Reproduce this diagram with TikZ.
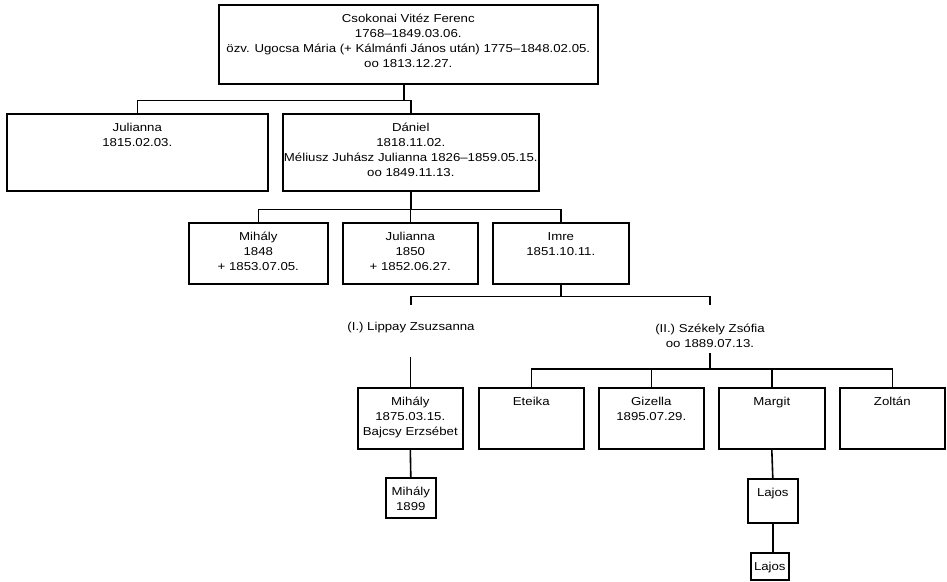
\documentclass[tikz,border=0pt]{standalone}
\usepackage{fontspec}
\setmainfont[FakeStretch=1.15]{Liberation Sans}
\usetikzlibrary{calc}
\newcommand\boxtxt[3]{\parbox[c][#2][t]{#1}{\centering\rule{0pt}{18pt}#3\par}}
\begin{document}
\begin{tikzpicture}[x=1pt,y=-1pt,
  every node/.style={font=\fontsize{11.5}{15}\selectfont},
  box/.style={draw, line width=1.6pt, inner sep=0pt, anchor=north west},
  conn/.style={line width=1.6pt},
  lbl/.style={align=center, inner sep=0pt}]
\useasboundingbox (0,0) rectangle (947,581);
% boxes
\node[box] (top) at (218,4) {\boxtxt{379pt}{79pt}{Csokonai Vitéz Ferenc\\1768–1849.03.06.\\özv. Ugocsa Mária (+ Kálmánfi János után) 1775–1848.02.05.\\oo 1813.12.27.}};
\node[box] (jul1) at (6,113) {\boxtxt{261pt}{77pt}{Julianna\\1815.02.03.}};
\node[box] (dan) at (282,113) {\boxtxt{256pt}{77pt}{Dániel\\1818.11.02.\\Méliusz Juhász Julianna 1826–1859.05.15.\\oo 1849.11.13.}};
\node[box] (mih1) at (188,222) {\boxtxt{139pt}{61pt}{Mihály\\1848\\+ 1853.07.05.}};
\node[box] (jul2) at (342,222) {\boxtxt{135pt}{61pt}{Julianna\\1850\\+ 1852.06.27.}};
\node[box] (imre) at (492,222) {\boxtxt{136pt}{61pt}{Imre\\1851.10.11.}};
\node[lbl] (lip) at (411,328) {(I.) Lippay Zsuzsanna};
\node[lbl] (sze) at (710,336) {(II.) Székely Zsófia\\oo 1889.07.13.};
\node[box] (m2) at (357,387) {\boxtxt{105pt}{61pt}{Mihály\\1875.03.15.\\Bajcsy Erzsébet}};
\node[box] (ete) at (478,387) {\boxtxt{105pt}{61pt}{Eteika}};
\node[box] (giz) at (598,387) {\boxtxt{105pt}{61pt}{Gizella\\1895.07.29.}};
\node[box] (mar) at (718,387) {\boxtxt{106pt}{61pt}{Margit}};
\node[box] (zol) at (839,387) {\boxtxt{105pt}{61pt}{Zoltán}};
\node[box] (m3) at (385,477) {\boxtxt{50pt}{40pt}{Mihály\\1899}};
\node[box] (laj1) at (747,478) {\boxtxt{50pt}{44pt}{Lajos}};
\node[box] (laj2) at (750,552) {\boxtxt{38pt}{27pt}{Lajos}};
% connectors
\draw[conn] ($(top.south)+(-4.5,0)$) -- ++(0,16) coordinate (b1);
\draw[conn] (jul1.north) -- (jul1.north |- b1) -- (dan.north |- b1) -- (dan.north);
\draw[conn] (dan.south) -- ++(0,18) coordinate (b2);
\draw[conn] (mih1.north) -- (mih1.north |- b2) -- (imre.north |- b2) -- (imre.north);
\draw[conn] (jul2.north) -- (jul2.north |- b2);
\draw[conn] (imre.south) -- ++(0,12) coordinate (b3);
\draw[conn] ($(lip.north |- b3)+(0,8)$) -- (lip.north |- b3) -- (sze.north |- b3) -- ++(0,8);
\draw[conn] (m2.north) -- ++(0,-30);
\coordinate (b4) at (0,369);
\draw[conn] (sze.south |- 0,353) -- (sze.south |- b4);
\draw[conn] (ete.north) -- (ete.north |- b4) -- (zol.north |- b4) -- (zol.north);
\draw[conn] (giz.north) -- (giz.north |- b4);
\draw[conn] (mar.north) -- (mar.north |- b4);
\draw[conn] (m2.south) -- (m3.north);
\draw[conn] (mar.south) -- (laj1.north);
\draw[conn] (laj1.south) -- (laj1.south |- laj2.north);
\end{tikzpicture}
\end{document}
